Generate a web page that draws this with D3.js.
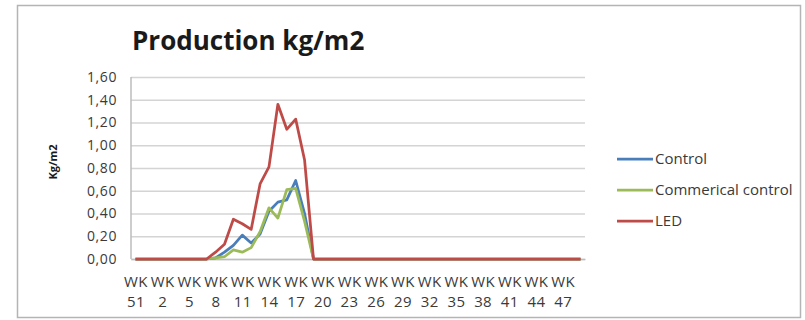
<!DOCTYPE html>
<html>
<head>
<meta charset="utf-8">
<script src="https://cdn.jsdelivr.net/npm/d3@7"></script>
<style>
  body { margin: 0; background: #fff; }
  text { font-family: "Open Sans", sans-serif; }
</style>
</head>
<body>
<div id="chart"></div>
<script>
// weeks shown on the x axis (end of one year into the next)
var weeks = [51, 52, 1, 2, 3, 4, 5, 6, 7, 8, 9, 10, 11, 12, 13, 14, 15, 16, 17, 18,
  19, 20, 21, 22, 23, 24, 25, 26, 27, 28, 29, 30, 31, 32, 33, 34, 35, 36, 37, 38,
  39, 40, 41, 42, 43, 44, 45, 46, 47, 48, 49];

var control = [0, 0, 0, 0, 0, 0, 0, 0, 0,
  0.01, 0.06, 0.12, 0.21, 0.14, 0.22, 0.42, 0.50, 0.52, 0.69, 0.40,
  0, 0, 0, 0, 0, 0, 0, 0, 0, 0, 0, 0, 0, 0, 0, 0,
  0, 0, 0, 0, 0, 0, 0, 0, 0, 0, 0, 0, 0, 0, 0];

var commercial = [0, 0, 0, 0, 0, 0, 0, 0, 0,
  0.01, 0.02, 0.08, 0.06, 0.10, 0.24, 0.45, 0.36, 0.61, 0.62, 0.33,
  0, 0, 0, 0, 0, 0, 0, 0, 0, 0, 0, 0, 0, 0, 0, 0,
  0, 0, 0, 0, 0, 0, 0, 0, 0, 0, 0, 0, 0, 0, 0];

var led = [0, 0, 0, 0, 0, 0, 0, 0, 0,
  0.06, 0.13, 0.35, 0.31, 0.26, 0.66, 0.81, 1.36, 1.14, 1.23, 0.87,
  0, 0, 0, 0, 0, 0, 0, 0, 0, 0, 0, 0, 0, 0, 0, 0,
  0, 0, 0, 0, 0, 0, 0, 0, 0, 0, 0, 0, 0, 0, 0];

var seriesNames = ["Control", "Commerical control", "LED"];
var seriesColors = ["#4a7ebb", "#9bbb59", "#be4b48"];
var yTicks = [0, 0.2, 0.4, 0.6, 0.8, 1.0, 1.2, 1.4, 1.6];

var series = [control, commercial, led].map((vals, i) => ({
  name: seriesNames[i],
  color: seriesColors[i],
  values: vals
}));

var width = 805, height = 320;
var plot = {left: 131, right: 585, top: 77, bottom: 259};

var svg = d3.select("#chart")
  .append("svg")
  .attr("width", width)
  .attr("height", height);

// outer chart border
svg.append("rect")
  .attr("x", 17.5)
  .attr("y", 5.5)
  .attr("width", 783)
  .attr("height", 312)
  .attr("fill", "#fff")
  .attr("stroke", "#b4b4b4")
  .attr("stroke-width", 1.5);

var x = d3.scalePoint()
  .domain(weeks)
  .range([plot.left, plot.right])
  .padding(0.5);

var y = d3.scaleLinear()
  .domain([0, 1.6])
  .range([plot.bottom, plot.top]);

var comma = d3.formatLocale({decimal: ",", thousands: ".", grouping: [3], currency: ["", ""]}).format(".2f");

// gridlines + y labels
var yAxis = d3.axisLeft(y)
  .tickValues(yTicks)
  .tickSize(-(plot.right - plot.left))
  .tickPadding(14)
  .tickFormat(comma);

svg.append("g")
  .attr("class", "y-axis")
  .attr("transform", `translate(${plot.left},0)`)
  .call(yAxis)
  .call(g => g.select(".domain").remove())
  .call(g => g.selectAll(".tick line").attr("stroke", "#d4d4d4").attr("stroke-width", 1.5))
  .call(g => g.selectAll(".tick text")
    .attr("fill", "#3a3a3a")
    .style("font-size", "14px")
    .style("letter-spacing", "0.6px"));

// left axis line
svg.append("line")
  .attr("x1", plot.left).attr("x2", plot.left)
  .attr("y1", plot.top).attr("y2", plot.bottom)
  .attr("stroke", "#bdbdbd")
  .attr("stroke-width", 1.5);

// x axis, label every third week on two lines
var xAxis = d3.axisBottom(x)
  .tickValues(weeks.filter((d, i) => i % 3 == 0))
  .tickSize(0)
  .tickFormat("");

var xg = svg.append("g")
  .attr("class", "x-axis")
  .attr("transform", `translate(0,${plot.bottom})`)
  .call(xAxis);

xg.select(".domain").attr("stroke", "#bdbdbd").attr("stroke-width", 1.5);

xg.selectAll(".tick").each(function(d) {
  var t = d3.select(this).append("text")
    .attr("text-anchor", "middle")
    .attr("fill", "#3a3a3a")
    .style("font-size", "15px")
    .style("letter-spacing", "0.4px");
  t.append("tspan").attr("x", 0).attr("y", 28).text("WK");
  t.append("tspan").attr("x", 0).attr("y", 48).text(d);
});

// series lines
var line = d3.line()
  .x((d, i) => x(weeks[i]))
  .y(d => y(d));

svg.selectAll(".series")
  .data(series)
  .enter()
  .append("path")
  .attr("class", "series")
  .attr("d", d => line(d.values))
  .attr("fill", "none")
  .attr("stroke", d => d.color)
  .attr("stroke-width", 2.75)
  .attr("stroke-linejoin", "round");

// title
svg.append("text")
  .attr("x", 132)
  .attr("y", 50)
  .attr("fill", "#1a1a1a")
  .style("font-size", "26px")
  .style("font-weight", "bold")
  .text("Production kg/m2");

// y axis title
svg.append("text")
  .attr("transform", "translate(57,162) rotate(-90)")
  .attr("text-anchor", "middle")
  .attr("fill", "#1a1a1a")
  .style("font-size", "11px")
  .style("font-weight", "bold")
  .text("Kg/m2");

// legend
var legend = svg.selectAll(".legend")
  .data(series)
  .enter()
  .append("g")
  .attr("class", "legend")
  .attr("transform", (d, i) => `translate(617,${159 + i * 31})`);

legend.append("line")
  .attr("x1", 0).attr("x2", 36)
  .attr("stroke", d => d.color)
  .attr("stroke-width", 2.75);

legend.append("text")
  .attr("x", 38)
  .attr("dy", "0.35em")
  .attr("fill", "#3a3a3a")
  .style("font-size", "15px")
  .text(d => d.name);
</script>
</body>
</html>
